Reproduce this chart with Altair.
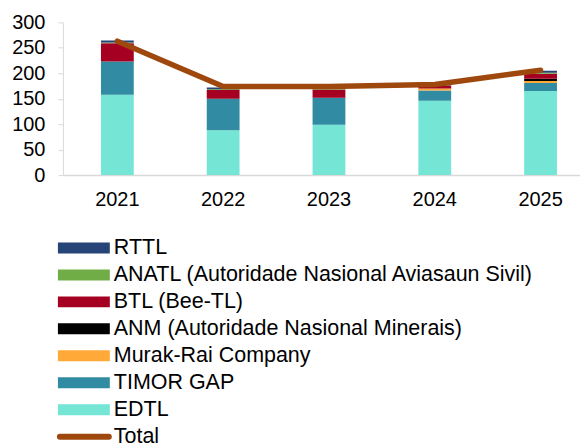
import altair as alt
import pandas as pd

years = ["2021", "2022", "2023", "2024", "2025"]
series = ["EDTL", "TIMOR GAP", "Murak-Rai Company",
          "ANM (Autoridade Nasional Minerais)", "BTL (Bee-TL)",
          "ANATL (Autoridade Nasional Aviasaun Sivil)", "RTTL"]
series_colors = ["#75E6D6", "#318BA3", "#FFA939", "#000000", "#A50021", "#70AD47", "#264478"]

edtl = [158, 88, 99, 146, 165]
timor_gap = [65, 62, 53, 20, 16]
murak_rai = [0, 0, 0, 4, 4]
anm = [0, 0, 0, 0, 4]
btl = [36, 17, 16, 6, 10]
anatl = [1.5, 1.5, 1, 0.5, 2]
rttl = [4, 3.5, 2, 1, 4]
total = [263, 174, 174, 178, 206]

y_ticks = [0, 50, 100, 150, 200, 250, 300]

legend_labels = ["RTTL", "ANATL (Autoridade Nasional Aviasaun Sivil)", "BTL (Bee-TL)",
                 "ANM (Autoridade Nasional Minerais)", "Murak-Rai Company",
                 "TIMOR GAP", "EDTL", "Total"]
legend_colors = ["#264478", "#70AD47", "#A50021", "#000000", "#FFA939",
                 "#318BA3", "#75E6D6", "#9E480E"]

values = [edtl, timor_gap, murak_rai, anm, btl, anatl, rttl]
rows = []
for i, (name, vals) in enumerate(zip(series, values)):
    for y, v in zip(years, vals):
        rows.append({"year": y, "series": name, "value": v, "idx": i})
df = pd.DataFrame(rows)
tdf = pd.DataFrame({"year": years, "total": total})
ldf = pd.DataFrame({"label": legend_labels, "color": legend_colors,
                    "kind": ["bar"] * 7 + ["line"]})

FONT = "Liberation Sans"
GRAY = "#D9D9D9"

xscale = alt.Scale(paddingInner=0.69, paddingOuter=0.2887, align=0.623)
xaxis = alt.Axis(title=None, labelAngle=0, ticks=False, tickSize=0,
                 labelPadding=14, labelFontSize=20, labelColor="#000000",
                 domainColor=GRAY, domainWidth=1.5, labelFont=FONT)
yscale = alt.Scale(domain=[0, 300], nice=False)
yaxis = alt.Axis(title=None, values=y_ticks, grid=False,
                 tickSize=5, tickColor=GRAY, domainColor=GRAY,
                 labelPadding=13, labelFontSize=20, labelColor="#000000",
                 labelFont=FONT, labelOverlap=False)

bars = alt.Chart(df).mark_bar().encode(
    x=alt.X("year:N", sort=years, scale=xscale, axis=xaxis),
    y=alt.Y("value:Q", stack="zero", scale=yscale, axis=yaxis),
    color=alt.Color("series:N", scale=alt.Scale(domain=series, range=series_colors), legend=None),
    order=alt.Order("idx:Q", sort="ascending"),
)

line = alt.Chart(tdf).mark_line(color="#9E480E", strokeWidth=5.5, strokeCap="round",
                                strokeJoin="round").encode(
    x=alt.X("year:N", sort=years, scale=xscale, axis=xaxis),
    y=alt.Y("total:Q", scale=yscale, axis=yaxis),
)

main = alt.layer(bars, line).properties(width=518, height=153)

ly = alt.Y("label:N", sort=legend_labels, axis=None,
           scale=alt.Scale(type="point", padding=0))
lcolor = alt.Color("color:N", scale=None)

sw_bar = alt.Chart(ldf).transform_filter("datum.kind == 'bar'").mark_rule(
    strokeWidth=11, strokeCap="butt").encode(
    x=alt.value(-5), x2=alt.value(47), y=ly, color=lcolor)
sw_line = alt.Chart(ldf).transform_filter("datum.kind == 'line'").mark_rule(
    strokeWidth=6, strokeCap="round").encode(
    x=alt.value(-3), x2=alt.value(46), y=ly, color=lcolor)
ltext = alt.Chart(ldf).mark_text(align="left", baseline="middle", fontSize=21.5,
                                 font=FONT, color="#000000").encode(
    x=alt.value(51), y=ly, text="label:N")

legend = alt.layer(sw_bar, sw_line, ltext).properties(width=480, height=189)

chart = alt.vconcat(main, legend, spacing=28).properties(
    padding={"left": 3, "top": 4, "right": 0, "bottom": 0}
).configure(font=FONT).configure_view(stroke=None)

chart.save("out.html", embed_options={"renderer": "svg", "actions": False})
